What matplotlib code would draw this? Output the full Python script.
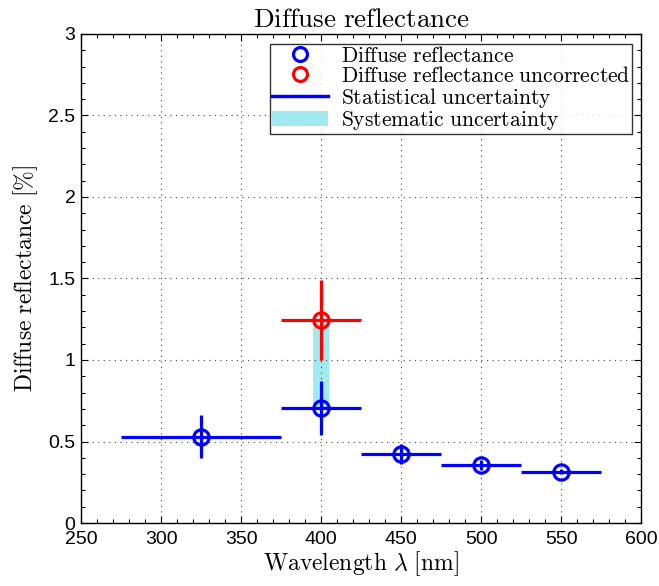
import matplotlib
matplotlib.use("Agg")
import matplotlib.pyplot as plt
from matplotlib.lines import Line2D
from matplotlib.patches import Patch
from matplotlib.ticker import MultipleLocator

plt.rcParams['mathtext.fontset'] = 'cm'
plt.rcParams['font.family'] = ['Liberation Sans', 'DejaVu Sans']

# data
wavelength = [325, 400, 450, 500, 550]
wl_halfwidth = [50, 25, 25, 25, 25]
reflectance = [0.53, 0.705, 0.425, 0.355, 0.315]
stat_err = [0.13, 0.165, 0.06, 0.03, 0.015]

uncorr_wavelength = [400]
uncorr_halfwidth = [25]
uncorr_reflectance = [1.245]
uncorr_stat_err = [0.245]

sys_wavelength = 400
sys_halfwidth = 5
sys_low = 0.705
sys_high = 1.245

blue = '#0000ff'
red = '#ff0000'
cyan = '#a0eaf0'

fig = plt.figure(figsize=(6.59, 5.86), dpi=100)
ax = fig.add_axes([0.123, 0.1075, 0.850, 0.8345])

ax.fill_between([sys_wavelength - sys_halfwidth, sys_wavelength + sys_halfwidth],
                [sys_low, sys_low], [sys_high, sys_high], color=cyan, lw=0, zorder=1)

ax.errorbar(uncorr_wavelength, uncorr_reflectance, xerr=uncorr_halfwidth, yerr=uncorr_stat_err,
            fmt='o', color=red, mfc='none', mec=red, ms=11, mew=2.3, elinewidth=2.3, capsize=0, zorder=3)
ax.errorbar(wavelength, reflectance, xerr=wl_halfwidth, yerr=stat_err,
            fmt='o', color=blue, mfc='none', mec=blue, ms=11, mew=2.3, elinewidth=2.3, capsize=0, zorder=3)

ax.set_xlim(250, 600)
ax.set_ylim(0, 3)
ax.xaxis.set_major_locator(MultipleLocator(50))
ax.xaxis.set_minor_locator(MultipleLocator(10))
ax.yaxis.set_major_locator(MultipleLocator(0.5))
ax.yaxis.set_minor_locator(MultipleLocator(0.1))
ax.set_yticks([0, 0.5, 1, 1.5, 2, 2.5, 3])
ax.set_yticklabels(['0', '0.5', '1', '1.5', '2', '2.5', '3'])
ax.tick_params(which='both', direction='in', top=True, right=True, labelsize=14, width=0.8)
ax.tick_params(axis='x', which='major', length=5, pad=6)
ax.tick_params(axis='y', which='major', length=5, pad=4)
ax.tick_params(which='minor', length=3)
ax.grid(True, which='major', linestyle=(0, (1, 4)), color='#444444', linewidth=0.8)
for s in ax.spines.values():
    s.set_linewidth(1.0)

ax.set_title(r'$\mathrm{Diffuse\ reflectance}$', fontsize=19.5, pad=5)
ax.set_xlabel(r'$\mathrm{Wavelength}\ \lambda\ [\mathrm{nm}]$', fontsize=17, labelpad=1)
ax.set_ylabel(r'$\mathrm{Diffuse\ reflectance}\ [\%]$', fontsize=17, labelpad=6)

handles = [
    Line2D([], [], marker='o', ls='none', mfc='none', mec=blue, mew=2.3, ms=10),
    Line2D([], [], marker='o', ls='none', mfc='none', mec=red, mew=2.3, ms=10),
    Line2D([], [], color=blue, lw=2.5),
    Patch(facecolor=cyan, edgecolor='none'),
]
labels = [r'$\mathrm{Diffuse\ reflectance}$',
          r'$\mathrm{Diffuse\ reflectance\ uncorrected}$',
          r'$\mathrm{Statistical\ uncertainty}$',
          r'$\mathrm{Systematic\ uncertainty}$']
leg = ax.legend(handles, labels, loc='upper right', bbox_to_anchor=(0.984, 0.98),
                fontsize=15.5, frameon=True, fancybox=False, edgecolor='black',
                borderpad=0.1, labelspacing=-0.05, handlelength=2.6, handletextpad=0.6,
                borderaxespad=0)
leg.get_frame().set_linewidth(1.0)

fig.savefig('out.png', dpi=100)
